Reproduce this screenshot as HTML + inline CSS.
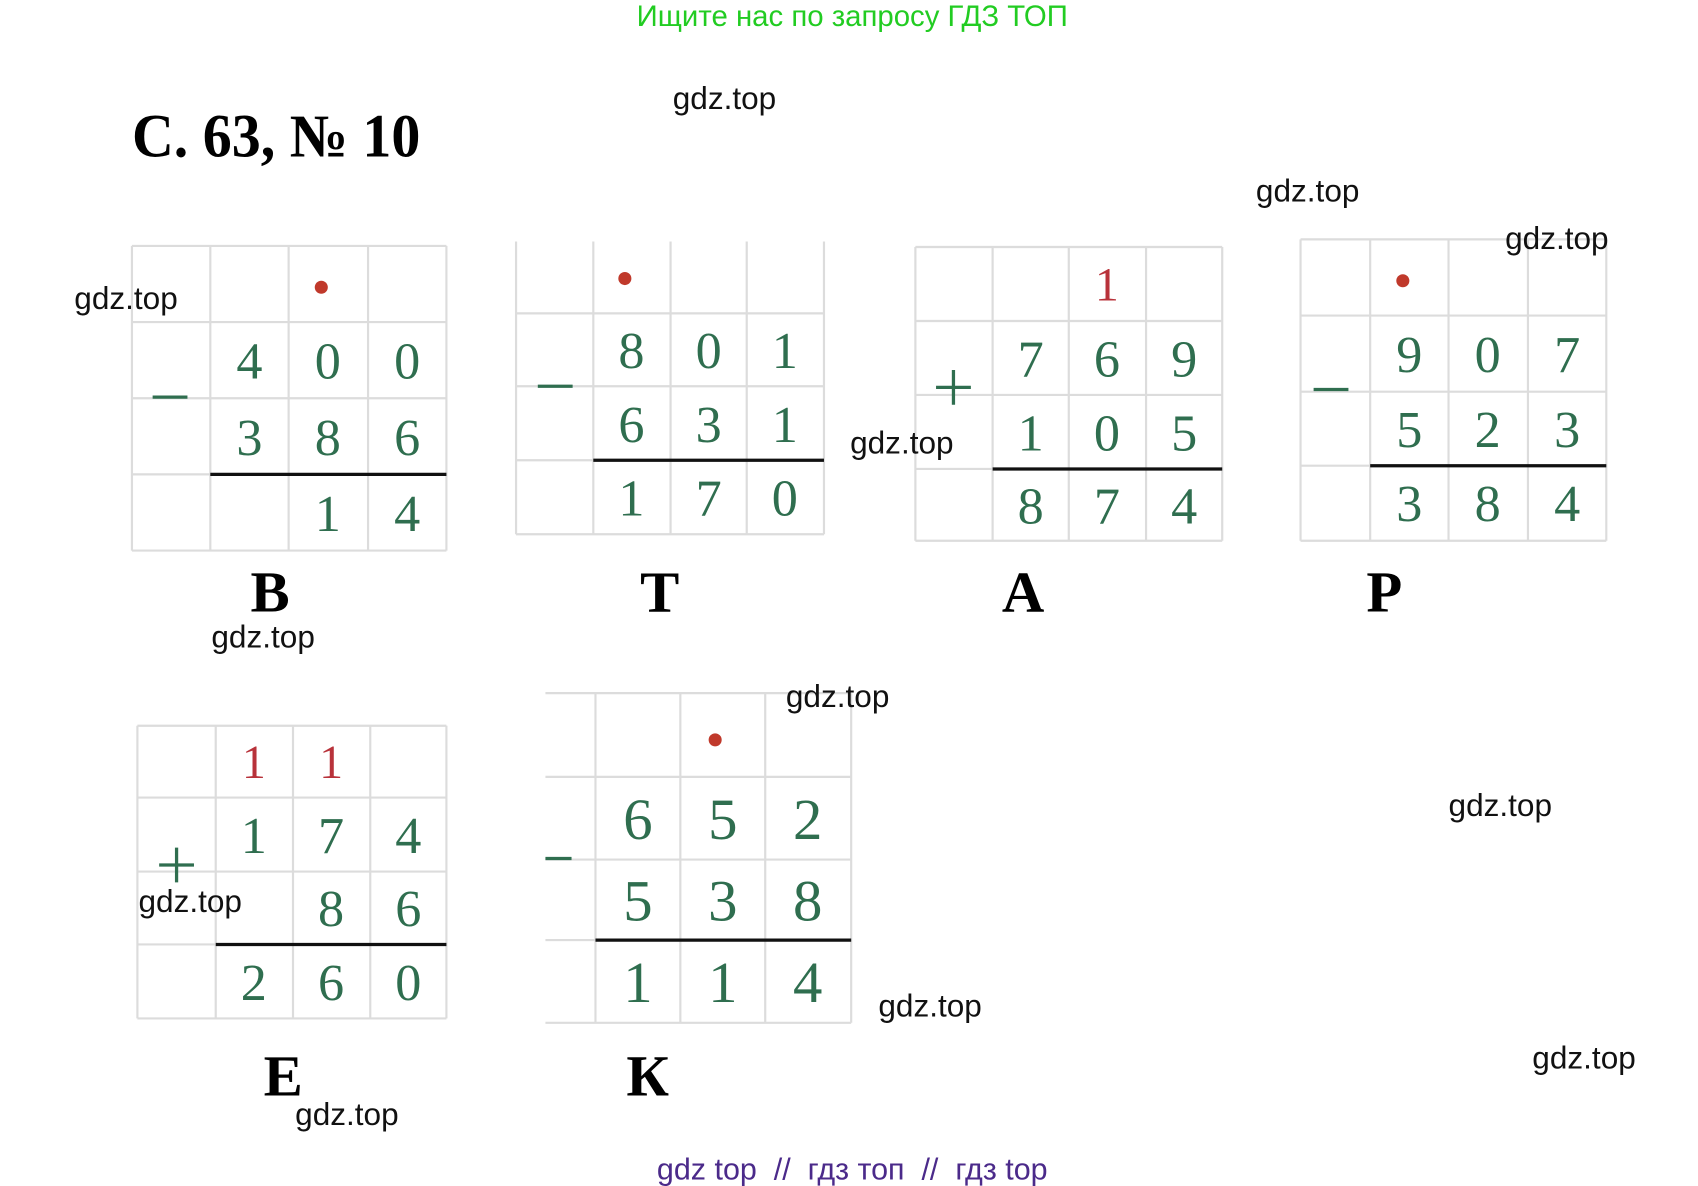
<!DOCTYPE html>
<html><head><meta charset="utf-8"><style>
html,body{margin:0;padding:0;background:#fff;width:1698px;height:1186px;overflow:hidden}
svg{display:block}
.w{font-family:"Liberation Sans","DejaVu Sans",sans-serif;font-size:29px;fill:#111}
.d{font-family:"Liberation Serif",serif;font-size:48px;fill:#2f6e4f;text-anchor:middle}
.r{font-family:"Liberation Serif",serif;font-size:44px;fill:#b8323a;text-anchor:middle}
.L{font-family:"Liberation Serif",serif;font-size:54px;font-weight:bold;fill:#000;text-anchor:middle}
.g{stroke:#dcdcdc;stroke-width:2;fill:none}
.k{stroke:#111;stroke-width:3}
.s{stroke:#2f6e4f;stroke-width:3}
</style></head><body>
<svg width="1698" height="1186" viewBox="0 0 1560 1090" xmlns="http://www.w3.org/2000/svg">
<text x="783" y="24" text-anchor="middle" style="font-family:'Liberation Sans','DejaVu Sans',sans-serif;font-size:27px;fill:#22cc22">Ищите нас по запросу ГДЗ ТОП</text>
<text x="121" y="144" textLength="265" lengthAdjust="spacingAndGlyphs" style="font-family:'Liberation Serif',serif;font-size:56px;font-weight:bold">С. 63, № 10</text>

<!-- B -->
<g class="g"><path d="M121 226V506M193 226V506M265 226V506M338 226V506M410 226V506M121 226H410M121 296H410M121 366H410M121 436H410M121 506H410"/></g>
<line class="k" x1="193" y1="436" x2="410" y2="436"/>
<line class="s" x1="140" y1="365" x2="172" y2="365"/>
<circle cx="295" cy="264" r="6" fill="#c0392b"/>
<text class="d" x="229" y="348">4</text><text class="d" x="301" y="348">0</text><text class="d" x="374" y="348">0</text>
<text class="d" x="229" y="418">3</text><text class="d" x="301" y="418">8</text><text class="d" x="374" y="418">6</text>
<text class="d" x="301" y="488">1</text><text class="d" x="374" y="488">4</text>
<text class="L" x="248" y="562">В</text>

<!-- T -->
<g class="g"><path d="M474 222V491M545 222V491M616 222V491M686 222V491M757 222V491M474 288H757M474 355H757M474 423H757M474 491H757"/></g>
<line class="k" x1="545" y1="423" x2="757" y2="423"/>
<line class="s" x1="494" y1="355" x2="526" y2="355"/>
<circle cx="574" cy="256" r="6" fill="#c0392b"/>
<text class="d" x="580" y="338">8</text><text class="d" x="651" y="338">0</text><text class="d" x="721" y="338">1</text>
<text class="d" x="580" y="406">6</text><text class="d" x="651" y="406">3</text><text class="d" x="721" y="406">1</text>
<text class="d" x="580" y="474">1</text><text class="d" x="651" y="474">7</text><text class="d" x="721" y="474">0</text>
<text class="L" x="606" y="562">Т</text>

<!-- A -->
<g class="g"><path d="M841 227V497M912 227V497M982 227V497M1053 227V497M1123 227V497M841 227H1123M841 295H1123M841 363H1123M841 431H1123M841 497H1123"/></g>
<line class="k" x1="912" y1="431" x2="1123" y2="431"/>
<path class="s" d="M860 356H892M876 340V372"/>
<text class="r" x="1017" y="276">1</text>
<text class="d" x="947" y="346">7</text><text class="d" x="1017" y="346">6</text><text class="d" x="1088" y="346">9</text>
<text class="d" x="947" y="414">1</text><text class="d" x="1017" y="414">0</text><text class="d" x="1088" y="414">5</text>
<text class="d" x="947" y="481">8</text><text class="d" x="1017" y="481">7</text><text class="d" x="1088" y="481">4</text>
<text class="L" x="940" y="562">А</text>

<!-- P -->
<g class="g"><path d="M1195 220V497M1259 220V497M1331 220V497M1404 220V497M1476 220V497M1195 220H1476M1195 290H1476M1195 360H1476M1195 428H1476M1195 497H1476"/></g>
<line class="k" x1="1259" y1="428" x2="1476" y2="428"/>
<line class="s" x1="1207" y1="358" x2="1239" y2="358"/>
<circle cx="1289" cy="258" r="6" fill="#c0392b"/>
<text class="d" x="1295" y="342">9</text><text class="d" x="1367" y="342">0</text><text class="d" x="1440" y="342">7</text>
<text class="d" x="1295" y="411">5</text><text class="d" x="1367" y="411">2</text><text class="d" x="1440" y="411">3</text>
<text class="d" x="1295" y="479">3</text><text class="d" x="1367" y="479">8</text><text class="d" x="1440" y="479">4</text>
<text class="L" x="1272" y="562">Р</text>

<!-- E -->
<g class="g"><path d="M126 667V936M198 667V936M269 667V936M340 667V936M410 667V936M126 667H410M126 733H410M126 801H410M126 868H410M126 936H410"/></g>
<line class="k" x1="198" y1="868" x2="410" y2="868"/>
<path class="s" d="M146 795H178M162 779V811"/>
<text class="r" x="233" y="715">1</text><text class="r" x="304" y="715">1</text>
<text class="d" x="233" y="784">1</text><text class="d" x="304" y="784">7</text><text class="d" x="375" y="784">4</text>
<text class="d" x="304" y="851">8</text><text class="d" x="375" y="851">6</text>
<text class="d" x="233" y="919">2</text><text class="d" x="304" y="919">6</text><text class="d" x="375" y="919">0</text>
<text class="L" x="260" y="1007">Е</text>

<!-- K -->
<g class="g"><path d="M547 637V940M625 637V940M703 637V940M782 637V940M501 637H782M501 714H782M501 790H782M501 864H782M501 940H782"/></g>
<line class="k" x1="547" y1="864" x2="782" y2="864"/>
<line class="s" x1="501" y1="789" x2="525" y2="789"/>
<circle cx="657" cy="680" r="6" fill="#c0392b"/>
<text class="d" x="586" y="771" style="font-size:54px">6</text><text class="d" x="664" y="771" style="font-size:54px">5</text><text class="d" x="742" y="771" style="font-size:54px">2</text>
<text class="d" x="586" y="846" style="font-size:54px">5</text><text class="d" x="664" y="846" style="font-size:54px">3</text><text class="d" x="742" y="846" style="font-size:54px">8</text>
<text class="d" x="586" y="921" style="font-size:54px">1</text><text class="d" x="664" y="921" style="font-size:54px">1</text><text class="d" x="742" y="921" style="font-size:54px">4</text>
<text class="L" x="595" y="1007">К</text>

<!-- watermarks -->
<text class="w" x="618" y="100">gdz.top</text>
<text class="w" x="1154" y="185">gdz.top</text>
<text class="w" x="1383" y="229">gdz.top</text>
<text class="w" x="68" y="284">gdz.top</text>
<text class="w" x="781" y="417">gdz.top</text>
<text class="w" x="194" y="595">gdz.top</text>
<text class="w" x="722" y="650">gdz.top</text>
<text class="w" x="1331" y="750">gdz.top</text>
<text class="w" x="127" y="838">gdz.top</text>
<text class="w" x="807" y="934">gdz.top</text>
<text class="w" x="1408" y="982">gdz.top</text>
<text class="w" x="271" y="1034">gdz.top</text>

<text x="783" y="1084" text-anchor="middle" style="font-family:'Liberation Sans','DejaVu Sans',sans-serif;font-size:28px;fill:#4b2a8a;white-space:pre" xml:space="preserve">gdz top  //  гдз топ  //  гдз top</text>
</svg>
</body></html>
